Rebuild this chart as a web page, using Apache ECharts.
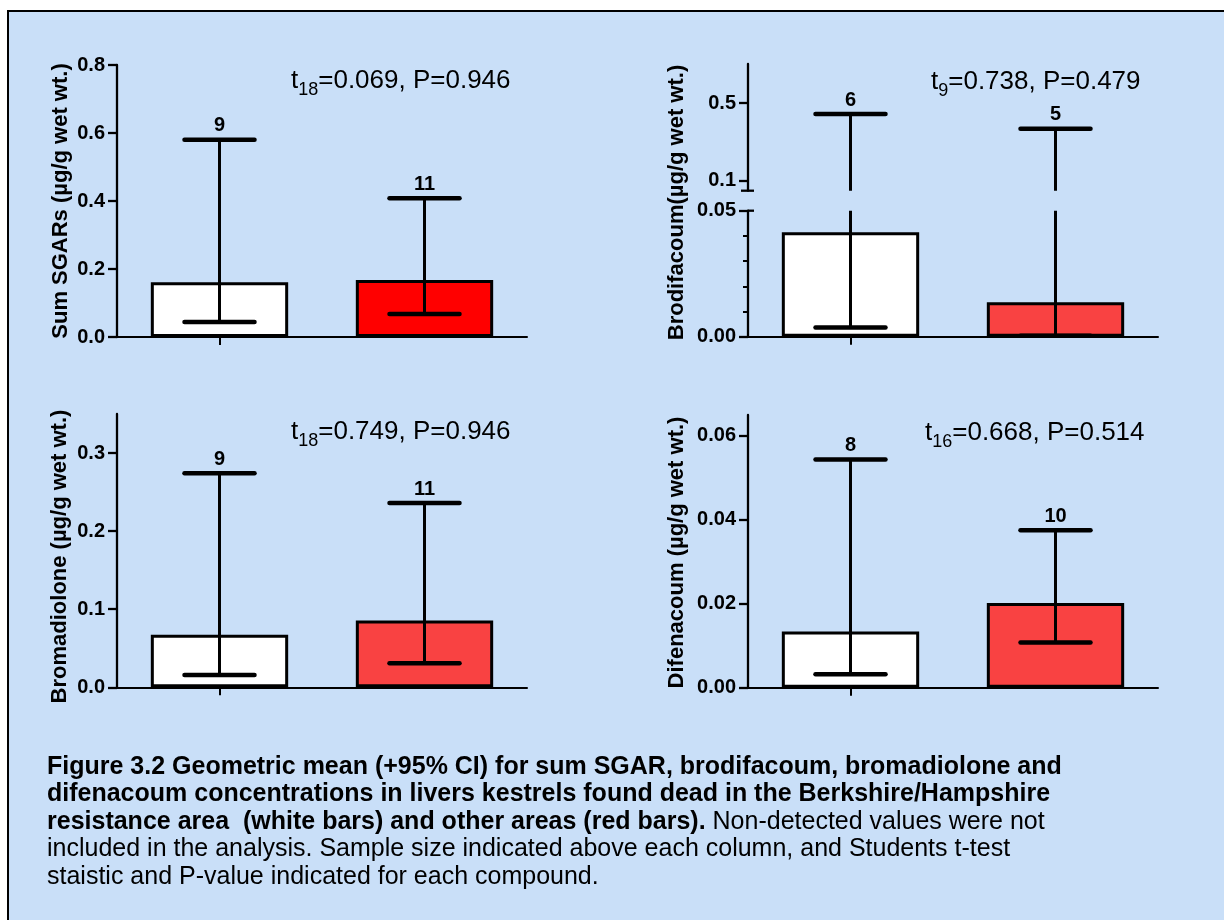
<!DOCTYPE html>
<html>
<head>
<meta charset="utf-8">
<script src="https://cdn.jsdelivr.net/npm/echarts@6/dist/echarts.min.js"></script>
<style>
html,body{margin:0;padding:0;background:#fff;}
#chart{width:1224px;height:920px;}
</style>
</head>
<body>
<div id="chart"></div>
<script>
// ---------- data ----------
const categories = ['Berkshire/Hampshire resistance area', 'Other areas'];

const sgarMean = [0.161, 0.168];
const sgarLow  = [0.044, 0.068];
const sgarHigh = [0.580, 0.408];
const sgarN    = [9, 11];

const brodMean = [0.0414, 0.0137];
const brodLow  = [0.0037, 0.0004];
const brodHigh = [0.443, 0.368];
const brodN    = [6, 5];

const bromMean = [0.0672, 0.0856];
const bromLow  = [0.0158, 0.0309];
const bromHigh = [0.274, 0.236];
const bromN    = [9, 11];

const difMean = [0.0134, 0.0202];
const difLow  = [0.0032, 0.0108];
const difHigh = [0.0544, 0.0375];
const difN    = [8, 10];

const testDf = ['18', '9', '18', '16'];
const testT  = ['0.069', '0.738', '0.749', '0.668'];
const testP  = ['0.946', '0.479', '0.946', '0.514'];

const yTitles = ['Sum SGARs (\u00b5g/g wet wt.)', 'Brodifacoum(\u00b5g/g wet wt.)',
                 'Bromadiolone (\u00b5g/g wet wt.)', 'Difenacoum (\u00b5g/g wet wt.)'];

const sgarTicks = [0, 0.2, 0.4, 0.6, 0.8];
const brodUpperTicks = [0.1, 0.5];
const bromTicks = [0, 0.1, 0.2, 0.3];
const difTicks = [0, 0.02, 0.04, 0.06];

// ---------- styling ----------
const FONT = '"Liberation Sans", Arial, Helvetica, sans-serif';
const WHITE = '#ffffff';
const RED1 = '#ff0000';
const RED2 = '#f94242';

function barData(means, red) {
  return means.map((v, i) => ({ value: v, itemStyle: { color: i === 0 ? WHITE : red } }));
}
function errData(low, high, n) {
  return low.map((l, i) => [i, l, high[i], n[i]]);
}

function errRender(params, api) {
  const lowPt = api.coord([api.value(0), api.value(1)]);
  const highPt = api.coord([api.value(0), api.value(2)]);
  const cs = params.coordSys;
  const half = 35;
  const children = [
    { type: 'line', shape: { x1: lowPt[0], y1: lowPt[1], x2: highPt[0], y2: highPt[1] },
      style: { stroke: '#000', lineWidth: 3 } },
    { type: 'line', shape: { x1: lowPt[0] - half, y1: lowPt[1], x2: lowPt[0] + half, y2: lowPt[1] },
      style: { stroke: '#000', lineWidth: 4.5, lineCap: 'round' } },
    { type: 'line', shape: { x1: highPt[0] - half, y1: highPt[1], x2: highPt[0] + half, y2: highPt[1] },
      style: { stroke: '#000', lineWidth: 4.5, lineCap: 'round' } }
  ];
  if (highPt[1] >= cs.y - 1 && highPt[1] <= cs.y + cs.height) {
    children.push({ type: 'text', x: highPt[0], y: highPt[1] - 4,
      style: { text: String(api.value(3)), align: 'center', verticalAlign: 'bottom',
               font: 'bold 20px ' + FONT, fill: '#000' } });
  }
  return { type: 'group', children };
}

function breakRender(where) {
  return function (params, api) {
    const cs = params.coordSys;
    const y = where === 'bottom' ? cs.y + cs.height : cs.y;
    const x1 = where === 'bottom' ? cs.x - 7 : cs.x;
    return { type: 'line', shape: { x1: x1, y1: y, x2: cs.x + 6, y2: y },
             style: { stroke: '#000', lineWidth: 2.3 } };
  };
}

const grids = [
  { left: 117, top: 65, width: 410, height: 272 },
  { left: 748, top: 64, width: 410, height: 126.7 },
  { left: 748, top: 210.7, width: 410, height: 126 },
  { left: 117, top: 414, width: 410, height: 273.3 },
  { left: 748, top: 415, width: 410, height: 272.7 }
];

function xAxisFor(g, hidden) {
  return {
    type: 'category', gridIndex: g, data: categories,
    axisLine: { show: !hidden, lineStyle: { color: '#000', width: 2 } },
    axisTick: { show: !hidden, alignWithLabel: true, length: 8, lineStyle: { color: '#000', width: 2 } },
    axisLabel: { show: false },
    splitLine: { show: false }
  };
}
function yAxisFor(g, min, max, ticks, decimals, extra) {
  const ax = {
    type: 'value', gridIndex: g, min: min, max: max,
    axisLine: { show: true, lineStyle: { color: '#000', width: 2.3 } },
    axisTick: { show: true, length: 9, lineStyle: { color: '#000', width: 2.3 } },
    axisLabel: { color: '#000', fontFamily: FONT, fontWeight: 'bold', fontSize: 20, margin: 12,
                 formatter: v => Number(v).toFixed(decimals) },
    splitLine: { show: false }
  };
  if (ticks) {
    ax.axisTick.customValues = ticks;
    ax.axisLabel.customValues = ticks;
  }
  return Object.assign(ax, extra || {});
}

const yAxes = [
  yAxisFor(0, 0, 0.8, sgarTicks, 1),
  yAxisFor(1, 0.05, 0.7, brodUpperTicks, 1),
  yAxisFor(2, 0, 0.05, null, 2, { interval: 0.05, minorTick: { show: true, splitNumber: 5, length: 5, lineStyle: { color: '#000', width: 2 } } }),
  yAxisFor(3, 0, 0.35, bromTicks, 1),
  yAxisFor(4, 0, 0.065, difTicks, 2)
];

function barSeries(idx, means, red) {
  return {
    type: 'bar', xAxisIndex: idx, yAxisIndex: idx, data: barData(means, red),
    barWidth: '67%', itemStyle: { borderColor: '#000', borderWidth: 3 }, z: 2, silent: true
  };
}
function errSeries(idx, low, high, n) {
  return {
    type: 'custom', xAxisIndex: idx, yAxisIndex: idx, data: errData(low, high, n),
    renderItem: errRender, clip: true, z: 5, silent: true,
    encode: { x: 0, y: [1, 2] }
  };
}

const series = [
  barSeries(0, sgarMean, RED1), errSeries(0, sgarLow, sgarHigh, sgarN),
  errSeries(1, brodLow, brodHigh, brodN),
  barSeries(2, brodMean, RED2), errSeries(2, brodLow, brodHigh, brodN),
  { type: 'custom', xAxisIndex: 1, yAxisIndex: 1, data: [[0, 0.05]], renderItem: breakRender('bottom'), z: 6, silent: true },
  { type: 'custom', xAxisIndex: 2, yAxisIndex: 2, data: [[0, 0.05]], renderItem: breakRender('top'), z: 6, silent: true },
  barSeries(3, bromMean, RED2), errSeries(3, bromLow, bromHigh, bromN),
  barSeries(4, difMean, RED2), errSeries(4, difLow, difHigh, difN)
];

const annotPos = [[291, 68], [931, 69], [291, 419], [925, 420]];
const annotRich = {
  m: { fontSize: 26, fontFamily: FONT, fontWeight: 'normal', color: '#000', lineHeight: 30, verticalAlign: 'top' },
  s: { fontSize: 18, fontFamily: FONT, fontWeight: 'normal', color: '#000', lineHeight: 18, verticalAlign: 'top', padding: [13, 0, 0, 0] }
};
const titles = annotPos.map((p, i) => ({
  left: p[0], top: p[1], padding: 0,
  text: '{m|t}{s|' + testDf[i] + '}{m|=' + testT[i] + ', P=' + testP[i] + '}',
  textStyle: { fontWeight: 'normal', rich: annotRich }
}));

const caption =
  '{b|Figure 3.2 Geometric mean (+95% CI) for sum SGAR, brodifacoum, bromadiolone and}\n' +
  '{b|difenacoum concentrations in livers kestrels found dead in the Berkshire/Hampshire}\n' +
  '{b|resistance area  (white bars) and other areas (red bars).}{n| Non-detected values were not}\n' +
  '{n|included in the analysis. Sample size indicated above each column, and Students t-test}\n' +
  '{n|staistic and P-value indicated for each compound.}';
titles.push({
  left: 47, top: 753, padding: 0, text: caption,
  textStyle: {
    fontWeight: 'normal',
    rich: {
      b: { fontFamily: FONT, fontWeight: 'bold', fontSize: 25, lineHeight: 27.5, color: '#000' },
      n: { fontFamily: FONT, fontWeight: 'normal', fontSize: 25, lineHeight: 27.5, color: '#000' }
    }
  }
});

const titleCenters = [[61, 201], [677, 202.5], [60, 556.5], [677, 552.5]];
const graphics = [
  { type: 'rect', z: -10, shape: { x: 8, y: 11, width: 1240, height: 940 },
    style: { fill: '#c9dff8', stroke: '#000', lineWidth: 2 }, silent: true }
].concat(titleCenters.map((c, i) => ({
  type: 'text', x: c[0], y: c[1], rotation: Math.PI / 2, silent: true,
  style: { text: yTitles[i], align: 'center', verticalAlign: 'middle',
           font: 'bold 22px ' + FONT, fill: '#000' }
})));

const chart = echarts.init(document.getElementById('chart'), null, { renderer: 'canvas' });
chart.setOption({
  animation: false,
  backgroundColor: '#ffffff',
  title: titles,
  grid: grids,
  xAxis: grids.map((g, i) => xAxisFor(i, i === 1)),
  yAxis: yAxes,
  series: series,
  graphic: graphics
});
</script>
</body>
</html>
